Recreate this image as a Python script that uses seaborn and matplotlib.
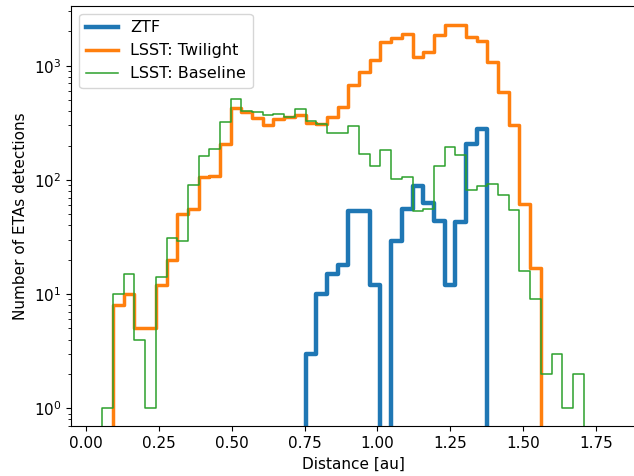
import numpy as np
import pandas as pd
import matplotlib
matplotlib.use("Agg")
import matplotlib.pyplot as plt
import seaborn as sns

plt.rcParams['font.size'] = 11

# Histogram binning (shared by all series)
edge_start, edge_stop, n_bins = 0.057, 1.707, 45

# Counts per bin
ztf_counts = [0, 0, 0, 0, 0, 0, 0, 0, 0, 0, 0, 0, 0, 0, 0, 0, 0, 0, 0,
              3, 10, 15, 18, 53, 53, 12, 0, 29, 56, 88, 63, 44, 12, 43, 205, 278,
              0, 0, 0, 0, 0, 0, 0, 0, 0]
twilight_counts = [0, 8, 10, 5, 5, 12, 20, 50, 56, 106, 108, 205, 424, 390, 350,
                   303, 341, 357, 368, 315, 309, 353, 432, 678, 887, 1122, 1597,
                   1738, 1910, 1190, 1305, 1870, 2275, 2250, 1795, 1653, 1085,
                   592, 303, 62, 17, 0, 0, 0, 0]
baseline_counts = [1, 10, 15, 4, 1, 14, 31, 29, 91, 163, 188, 319, 511, 401, 391,
                   368, 378, 356, 421, 330, 309, 256, 259, 297, 170, 131, 184,
                   102, 107, 53, 56, 132, 194, 165, 82, 89, 92, 74, 54, 16, 9,
                   2, 3, 1, 2]
series_labels = ["ZTF", "LSST: Twilight", "LSST: Baseline"]

width = (edge_stop - edge_start) / n_bins
edges = np.linspace(edge_start - width, edge_stop + width, n_bins + 3)
centers = 0.5 * (edges[:-1] + edges[1:])

fig = plt.figure(figsize=(6.34, 4.76), dpi=100)
ax = fig.add_axes([0.1125, 0.105, 0.8907, 0.8824])
ax.set_yscale('log')

styles = [("#1f77b4", 3.2), ("#ff7f0e", 2.5), ("#2ca02c", 1.1)]
for label, counts, (color, lw) in zip(series_labels,
                                      [ztf_counts, twilight_counts, baseline_counts],
                                      styles):
    padded = np.concatenate([[0], counts, [0]])
    df = pd.DataFrame({"distance": centers, "count": padded})
    sns.histplot(data=df, x="distance", weights="count", bins=list(edges),
                 element="step", fill=False, color=color, linewidth=lw, ax=ax)

lines = ax.get_lines()
for line, label in zip(lines, series_labels):
    line.set_label(label)
ax.legend(handles=lines[:3], loc="upper left", fontsize=11.5)

ax.set_xlim(-0.0494, 1.8865)
ax.set_ylim(0.70, 3330)
ax.set_xlabel("Distance [au]")
ax.set_ylabel("Number of ETAs detections")

fig.savefig("out.png", dpi=100)
